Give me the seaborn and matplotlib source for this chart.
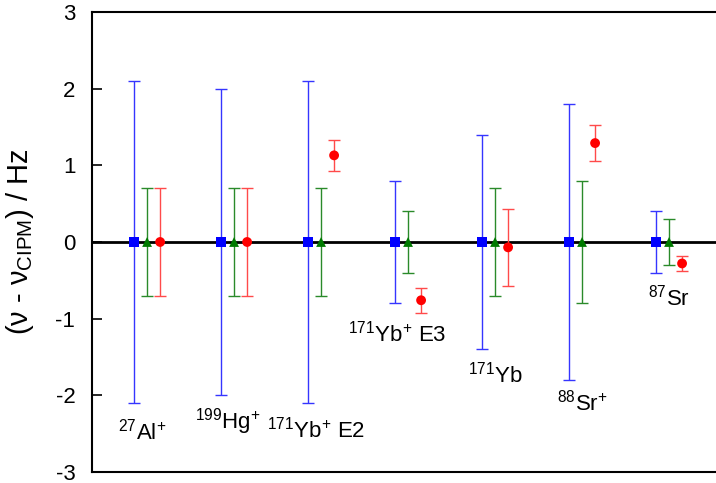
import pandas as pd
import seaborn as sns
import matplotlib.pyplot as plt

labels = [r'$^{27}$Al$^{+}$', r'$^{199}$Hg$^{+}$', r'$^{171}$Yb$^{+}$ E2', r'$^{171}$Yb$^{+}$ E3',
          r'$^{171}$Yb', r'$^{88}$Sr$^{+}$', r'$^{87}$Sr']
# where each annotation sits (x relative to the group centre, y in Hz)
label_dx = [-0.06, -0.07, -0.06, -0.13, 0.0, 0.0, 0.0]
label_y = [-2.47, -2.34, -2.45, -1.19, -1.73, -2.10, -0.73]

blue_val = [0, 0, 0, 0, 0, 0, 0]
blue_err = [2.1, 2.0, 2.1, 0.8, 1.4, 1.8, 0.4]
green_val = [0, 0, 0, 0, 0, 0, 0]
green_err = [0.7, 0.7, 0.7, 0.4, 0.7, 0.8, 0.3]
red_val = [0, 0, 1.13, -0.76, -0.07, 1.29, -0.28]
red_err = [0.7, 0.7, 0.2, 0.16, 0.5, 0.23, 0.1]

sns.set_style('ticks')
plt.rcParams['font.family'] = ['Liberation Sans', 'DejaVu Sans']
plt.rcParams['mathtext.default'] = 'regular'
plt.rcParams['axes.unicode_minus'] = False
plt.rcParams['text.color'] = 'black'
plt.rcParams['axes.labelcolor'] = 'black'

rows = []
for i in range(len(labels)):
    rows.append(dict(grp=i, series='blue', x=i - 0.15, y=blue_val[i], err=blue_err[i]))
    rows.append(dict(grp=i, series='green', x=i, y=green_val[i], err=green_err[i]))
    rows.append(dict(grp=i, series='red', x=i + 0.15, y=red_val[i], err=red_err[i]))
df = pd.DataFrame(rows)

cols = {'blue': '#0000ff', 'green': '#007a00', 'red': '#ff0000'}
ecols = {'blue': '#3535ff', 'green': '#2a8a2a', 'red': '#ff4a4a'}
marks = {'blue': 's', 'green': '^', 'red': 'o'}

fig = plt.figure(figsize=(7.16, 4.83), dpi=100)
ax = fig.add_axes([0.1285, 0.0228, 0.8715, 0.9524])

ax.axhline(0, color='black', lw=2, zorder=1)
for s, d in df.groupby('series'):
    ax.errorbar(d['x'], d['y'], yerr=d['err'], fmt='none', ecolor=ecols[s],
                elinewidth=1, capsize=4, capthick=1, zorder=2)

sns.scatterplot(data=df, x='x', y='y', hue='series', style='series',
                palette=cols, markers=marks, s=50, edgecolor='none',
                legend=False, ax=ax, zorder=3)

for i, lab in enumerate(labels):
    ax.text(i + label_dx[i], label_y[i], lab, ha='center', va='center', fontsize=16, color='black')

ax.set_xlim(-0.633, 6.54)
ax.set_ylim(-3, 3)
ax.set_yticks([-3, -2, -1, 0, 1, 2, 3])
ax.set_xticks([])
ax.set_xlabel('')
ax.set_ylabel(r'(ν - ν$_{CIPM}$) / Hz', fontsize=21, labelpad=14, color='black')
ax.tick_params(axis='y', direction='in', length=7, width=1.2, labelsize=16, pad=12,
               colors='black', labelcolor='black')
for sp in ['left', 'top', 'bottom']:
    ax.spines[sp].set_linewidth(1.5)
    ax.spines[sp].set_color('black')
ax.spines['right'].set_visible(False)

fig.savefig('out.png', dpi=100)
